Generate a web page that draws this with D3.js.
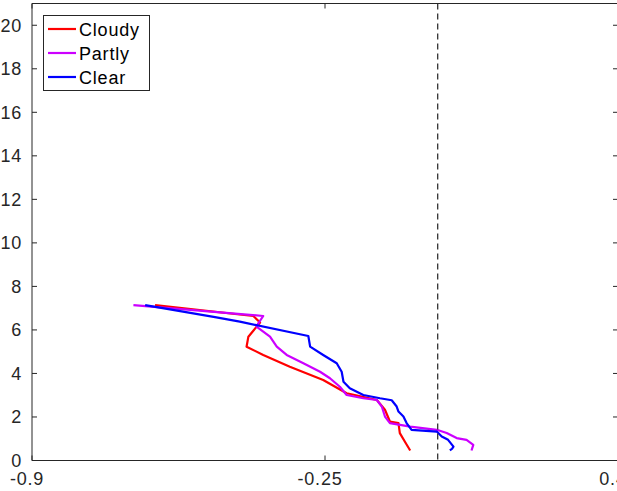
<!DOCTYPE html>
<html><head><meta charset="utf-8">
<script src="https://d3js.org/d3.v7.min.js"></script>
<style>html,body{margin:0;padding:0;background:#fff;}svg{display:block;}</style>
</head><body>
<script>
const seriesNames = ["Cloudy", "Partly", "Clear"];
const seriesColors = ["#ff0000", "#cc00ff", "#0000ff"];
const cloudyX = [-0.627,-0.409,-0.394,-0.420,-0.424,-0.387,-0.328,-0.254,-0.202,-0.184,-0.135,-0.117,-0.106,-0.087,-0.084,-0.073,-0.061];
const cloudyY = [7.14,6.64,6.34,5.69,5.23,4.85,4.31,3.70,3.09,3.01,2.78,2.33,1.79,1.72,1.26,0.87,0.46];
const partlyX = [-0.675,-0.387,-0.398,-0.402,-0.372,-0.357,-0.335,-0.298,-0.261,-0.239,-0.217,-0.202,-0.165,-0.135,-0.124,-0.117,-0.106,-0.061,-0.002,0.020,0.042,0.064,0.079,0.075];
const partlyY = [7.14,6.64,6.30,6.15,5.69,5.23,4.85,4.47,4.08,3.78,3.39,3.01,2.86,2.78,2.48,2.02,1.72,1.56,1.41,1.26,1.03,0.95,0.72,0.46];
const clearX = [-0.649,-0.494,-0.439,-0.287,-0.283,-0.254,-0.224,-0.213,-0.209,-0.195,-0.165,-0.128,-0.102,-0.091,-0.087,-0.076,-0.069,-0.058,-0.002,0.009,0.023,0.035,0.032,0.027];
const clearY = [7.14,6.59,6.38,5.72,5.23,4.85,4.47,4.08,3.62,3.32,3.01,2.86,2.77,2.48,2.25,2.02,1.72,1.41,1.33,1.10,0.95,0.64,0.54,0.46];
const xTicks = [-0.9, -0.25, 0.4];
const xTickLabels = ["-0.9", "-0.25", "0.4"];
const yTicks = [0,2,4,6,8,10,12,14,16,18,20];
const refLineX = 0;

const W = 617, H = 491;
const m = {left: 32, top: 3.5, right: 618, bottom: 460.5};
const x = d3.scaleLinear().domain([-0.9, 0.4]).range([m.left, m.right]);
const y = d3.scaleLinear().domain([0, 21]).range([m.bottom, m.top]);
const axisColor = "#262626";
const font = "'Liberation Sans', Arial, Helvetica, sans-serif";
const fs = 18, ls = 0.8;

const svg = d3.select("body").append("svg").attr("width", W).attr("height", H);

const series = [
  {name: seriesNames[0], color: seriesColors[0], xs: cloudyX, ys: cloudyY},
  {name: seriesNames[1], color: seriesColors[1], xs: partlyX, ys: partlyY},
  {name: seriesNames[2], color: seriesColors[2], xs: clearX, ys: clearY}
];
const line = d3.line().x(d => x(d[0])).y(d => y(d[1]));
series.forEach(s => {
  const pts = s.xs.map((v, i) => [v, s.ys[i]]);
  svg.append("path").attr("d", line(pts)).attr("fill", "none")
    .attr("stroke", s.color).attr("stroke-width", 2.2).attr("stroke-linejoin", "round");
});

svg.append("line").attr("x1", x(refLineX)).attr("x2", x(refLineX))
  .attr("y1", y(21)).attr("y2", y(0))
  .attr("stroke", "#333").attr("stroke-width", 1.3).attr("stroke-dasharray", "6,4");

const g = svg.append("g");
g.append("line").attr("x1", m.left).attr("x2", m.right).attr("y1", m.bottom).attr("y2", m.bottom).attr("stroke", axisColor);
g.append("line").attr("x1", m.left).attr("x2", m.right).attr("y1", m.top).attr("y2", m.top).attr("stroke", axisColor);
g.append("line").attr("x1", m.left).attr("x2", m.left).attr("y1", m.top).attr("y2", m.bottom).attr("stroke", axisColor);
g.append("line").attr("x1", m.right).attr("x2", m.right).attr("y1", m.top).attr("y2", m.bottom).attr("stroke", axisColor);

yTicks.forEach(t => {
  const yy = y(t);
  g.append("line").attr("x1", m.left).attr("x2", m.left + 5).attr("y1", yy).attr("y2", yy).attr("stroke", axisColor);
  g.append("line").attr("x1", m.right - 5).attr("x2", m.right).attr("y1", yy).attr("y2", yy).attr("stroke", axisColor);
  g.append("text").attr("x", m.left - 10).attr("y", yy + 6.5).attr("text-anchor", "end")
    .attr("font-family", font).attr("font-size", fs).attr("letter-spacing", ls).attr("fill", axisColor).text(String(t));
});
xTicks.forEach((t, i) => {
  const xx = x(t);
  g.append("line").attr("x1", xx).attr("x2", xx).attr("y1", m.bottom).attr("y2", m.bottom - 5).attr("stroke", axisColor);
  g.append("line").attr("x1", xx).attr("x2", xx).attr("y1", m.top).attr("y2", m.top + 5).attr("stroke", axisColor);
  g.append("text").attr("x", xx - 5).attr("y", 485).attr("text-anchor", "middle")
    .attr("font-family", font).attr("font-size", fs).attr("letter-spacing", ls).attr("fill", axisColor).text(xTickLabels[i]);
});

const lg = svg.append("g");
lg.append("rect").attr("x", 43.5).attr("y", 15.5).attr("width", 106).attr("height", 75)
  .attr("fill", "#fff").attr("stroke", axisColor).attr("stroke-width", 1);
const rows = [29, 53, 77];
series.forEach((s, i) => {
  lg.append("line").attr("x1", 48).attr("x2", 76).attr("y1", rows[i]).attr("y2", rows[i])
    .attr("stroke", s.color).attr("stroke-width", 2.2);
  lg.append("text").attr("x", 79).attr("y", rows[i] + 6.5)
    .attr("font-family", font).attr("font-size", fs).attr("letter-spacing", ls).attr("fill", "#000").text(s.name);
});
</script>
</body></html>
